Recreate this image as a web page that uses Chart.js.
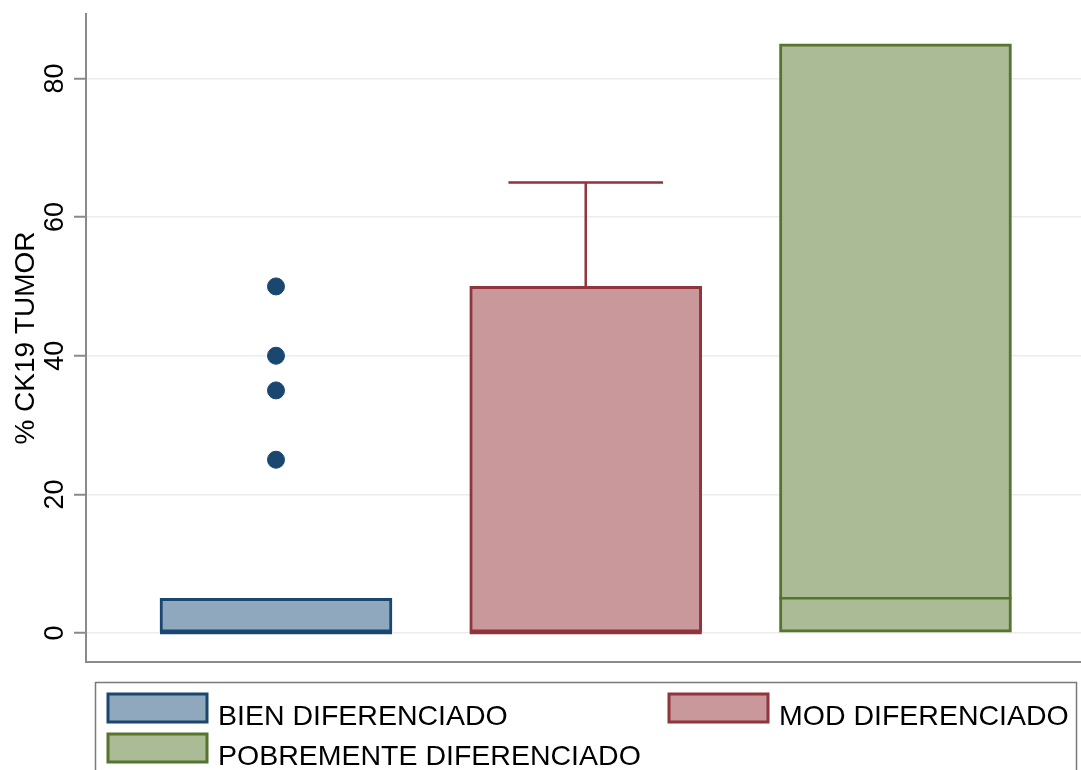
<!DOCTYPE html>
<html>
<head>
<meta charset="utf-8">
<script src="https://cdn.jsdelivr.net/npm/chart.js@4.4.1/dist/chart.umd.min.js"></script>
<style>
  html, body { margin: 0; padding: 0; background: #ffffff; }
  canvas { display: block; }
</style>
</head>
<body>
<canvas id="boxChart" width="1081" height="770"></canvas>
<script>
// grupos y resumen de cada caja (% CK19 TUMOR)
var grupos = ['BIEN DIFERENCIADO', 'MOD DIFERENCIADO', 'POBREMENTE DIFERENCIADO'];
var posiciones = [1, 2, 3];
var q1 = [0, 0, 0];
var mediana = [0, 0, 5];
var q3 = [5, 50, 85];
var bigoteSup = [5, 65, 85];
var atipicos = [[25, 35, 40, 50], [], []];
var yTicks = [0, 20, 40, 60, 80];

var rellenos = ['#90a8be', '#c8989b', '#aabb95'];
var bordes = ['#1a476f', '#90353b', '#55752f'];

var datasets = grupos.map(function(g, i) {
    return {
        label: g,
        data: [{ x: posiciones[i], y: [q1[i], q3[i]] }],
        backgroundColor: rellenos[i],
        borderColor: bordes[i],
        borderWidth: 3,
        borderSkipped: false,
        barThickness: 232,
        grouped: false
    };
});

var puntos = [];
atipicos.forEach(function(lista, i) {
    lista.forEach(function(v) {
        puntos.push({ x: posiciones[i], y: v });
    });
});

datasets.push({
    type: 'scatter',
    label: 'atipicos',
    data: puntos,
    backgroundColor: '#1a476f',
    borderColor: '#1a476f',
    borderWidth: 1,
    pointRadius: 8.5
});

// bigotes y medianas sobre las cajas
var cajaPlugin = {
    id: 'cajaPlugin',
    afterDatasetsDraw: function(chart) {
        var ctx = chart.ctx;
        var y = chart.scales.y;
        ctx.save();
        grupos.forEach(function(g, i) {
            var bar = chart.getDatasetMeta(i).data[0];
            var half = bar.width / 2;
            ctx.strokeStyle = bordes[i];
            ctx.lineWidth = 2.5;
            // mediana
            ctx.beginPath();
            ctx.moveTo(bar.x - half, y.getPixelForValue(mediana[i]));
            ctx.lineTo(bar.x + half, y.getPixelForValue(mediana[i]));
            ctx.stroke();
            // bigote superior
            if (bigoteSup[i] > q3[i]) {
                var top = y.getPixelForValue(bigoteSup[i]);
                var cap = bar.width / 3;
                ctx.beginPath();
                ctx.moveTo(bar.x, y.getPixelForValue(q3[i]));
                ctx.lineTo(bar.x, top);
                ctx.moveTo(bar.x - cap, top);
                ctx.lineTo(bar.x + cap, top);
                ctx.stroke();
            }
        });
        ctx.restore();
    },
    afterDraw: function(chart) {
        var ctx = chart.ctx;
        var y = chart.scales.y;
        ctx.save();
        // etiquetas del eje y, giradas
        ctx.fillStyle = '#000000';
        ctx.font = '27px "Liberation Sans", Arial, sans-serif';
        ctx.textAlign = 'center';
        ctx.textBaseline = 'alphabetic';
        yTicks.forEach(function(t) {
            ctx.save();
            ctx.translate(63, y.getPixelForValue(t));
            ctx.rotate(-Math.PI / 2);
            ctx.fillText(String(t), 0, 0);
            ctx.restore();
        });

        // leyenda
        ctx.strokeStyle = '#7a7a7a';
        ctx.lineWidth = 1.5;
        ctx.strokeRect(95.5, 682.5, 981, 100);
        var cols = [108, 669, 108];
        var rows = [694, 694, 734];
        ctx.font = '28.5px "Liberation Sans", Arial, sans-serif';
        ctx.textAlign = 'left';
        grupos.forEach(function(g, i) {
            ctx.fillStyle = rellenos[i];
            ctx.fillRect(cols[i], rows[i], 99, 28);
            ctx.strokeStyle = bordes[i];
            ctx.lineWidth = 3;
            ctx.strokeRect(cols[i], rows[i], 99, 28);
            ctx.fillStyle = '#000000';
            ctx.fillText(g, cols[i] + 110, rows[i] + 31);
        });
        ctx.restore();
    }
};

var ctx = document.getElementById('boxChart').getContext('2d');
var myChart = new Chart(ctx, {
    type: 'bar',
    data: { datasets: datasets },
    plugins: [cajaPlugin],
    options: {
        responsive: false,
        animation: false,
        layout: { autoPadding: false, padding: { top: 14, bottom: 108, left: 0, right: 0 } },
        plugins: {
            legend: { display: false },
            tooltip: { enabled: false }
        },
        scales: {
            x: {
                type: 'linear',
                offset: false,
                min: 0.3866,
                max: 3.599,
                grid: { display: false, drawTicks: false },
                ticks: { display: false },
                border: { display: true, color: '#8a8a8a', width: 2 },
                afterFit: function(scale) { scale.height = 0; }
            },
            y: {
                min: -4.18,
                max: 89.3,
                afterBuildTicks: function(scale) {
                    scale.ticks = yTicks.map(function(v) { return { value: v }; });
                },
                ticks: { display: false },
                grid: {
                    color: '#ececec',
                    lineWidth: 1.5,
                    tickLength: 12,
                    tickColor: '#8a8a8a',
                    tickWidth: 2
                },
                border: { display: true, color: '#8a8a8a', width: 2 },
                title: {
                    display: true,
                    text: '% CK19 TUMOR',
                    color: '#000000',
                    font: { family: '"Liberation Sans", Arial, sans-serif', size: 28 },
                    padding: { top: 9, bottom: 0 }
                },
                afterFit: function(scale) { scale.width = 86; }
            }
        }
    }
});
</script>
</body>
</html>
